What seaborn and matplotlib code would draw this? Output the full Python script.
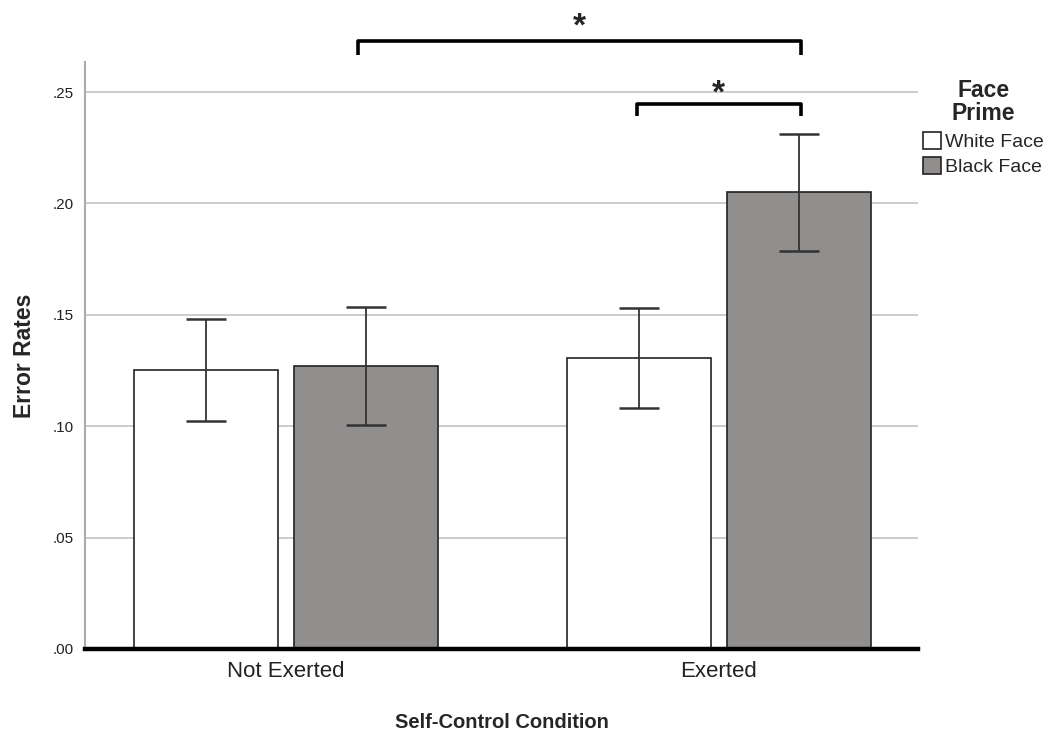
import matplotlib
matplotlib.use("Agg")
import matplotlib.pyplot as plt
import seaborn as sns
import pandas as pd
import numpy as np
from matplotlib.patches import Patch

conditions = ["Not Exerted", "Exerted"]
primes = ["White Face", "Black Face"]
white_means = [0.1252, 0.1306]
black_means = [0.1272, 0.2050]
white_lo = [0.1023, 0.1081]
white_hi = [0.1482, 0.1531]
black_lo = [0.1005, 0.1786]
black_hi = [0.1535, 0.2310]
yticks = [0.0, 0.05, 0.10, 0.15, 0.20, 0.25]
ytick_labels = [".00", ".05", ".10", ".15", ".20", ".25"]

sns.set_style("white")
plt.rcParams['font.family'] = ['Liberation Sans', 'DejaVu Sans']

df = pd.DataFrame({
    "Self-Control Condition": conditions * 2,
    "Face Prime": [primes[0]] * 2 + [primes[1]] * 2,
    "Error Rates": white_means + black_means,
})

fig = plt.figure(figsize=(10.47, 7.32), dpi=100)
ax = fig.add_axes([0.0812, 0.1134, 0.7956, 0.8019])

colors = {"White Face": "#ffffff", "Black Face": "#918e8d"}
sns.barplot(data=df, x="Self-Control Condition", y="Error Rates", hue="Face Prime",
            order=conditions, hue_order=primes, palette=colors, width=0.739, gap=0.1,
            edgecolor="#222222", linewidth=1.2, errorbar=None, ax=ax, legend=False, zorder=3)

# error bars positioned at bar centers
lo = {"White Face": white_lo, "Black Face": black_lo}
hi = {"White Face": white_hi, "Black Face": black_hi}
means = {"White Face": white_means, "Black Face": black_means}
for container, prime in zip(ax.containers, primes):
    xs = [p.get_x() + p.get_width() / 2 for p in container.patches]
    m = np.array(means[prime])
    yerr = [m - np.array(lo[prime]), np.array(hi[prime]) - m]
    ax.errorbar(xs, m, yerr=yerr, fmt="none", ecolor="#333333", elinewidth=1.3,
                capsize=14.5, capthick=1.8, zorder=4)

ax.set_ylim(0, 0.2635)
ax.set_xlim(-0.464, 1.46)
ax.set_yticks(yticks)
ax.set_yticklabels(ytick_labels, fontsize=11)
ax.yaxis.grid(True, color="#c8c8c8", linewidth=1.3, zorder=0)
ax.set_axisbelow(True)
ax.tick_params(axis="x", labelsize=16, length=0, pad=9, colors="#222222")
ax.tick_params(axis="y", length=0, pad=8, colors="#222222")
ax.set_xlabel("Self-Control Condition", fontsize=14.5, fontweight="bold", labelpad=22)
ax.set_ylabel("Error Rates", fontsize=16.5, fontweight="bold", labelpad=12)

for s in ["top", "right"]:
    ax.spines[s].set_visible(False)
ax.spines["left"].set_color("#aaaaaa")
ax.spines["left"].set_linewidth(1.5)
ax.spines["bottom"].set_color("#000000")
ax.spines["bottom"].set_linewidth(3.2)
ax.spines["bottom"].set_zorder(5)

# significance brackets
def bracket(x0, x1, y, h, star_y):
    ax.plot([x0, x0, x1, x1], [y - h, y, y, y - h], color="black", lw=2.6,
            clip_on=False, zorder=6, solid_capstyle="butt")
    ax.text((x0 + x1) / 2, star_y, "*", ha="center", va="center", fontsize=24,
            fontweight="bold", clip_on=False)

bracket(0.166, 1.189, 0.2729, 0.0063, 0.2793)
bracket(0.81, 1.189, 0.2446, 0.0054, 0.2490)

handles = [Patch(facecolor=colors[p], edgecolor="#222222", linewidth=1.2, label=p) for p in primes]
leg = fig.legend(handles=handles, title="Face\nPrime", loc="upper left",
                 bbox_to_anchor=(0.870, 0.908), frameon=False, fontsize=14,
                 handlelength=0.95, handleheight=0.95, handletextpad=0.2,
                 labelspacing=0.3, borderpad=0.1)
leg.get_title().set_fontweight("bold")
leg.get_title().set_fontsize(16.5)
leg.get_title().set_multialignment("center")
leg.get_title().set_linespacing(1.0)
leg._legend_box.sep = 5

fig.savefig("out.png", dpi=100)
